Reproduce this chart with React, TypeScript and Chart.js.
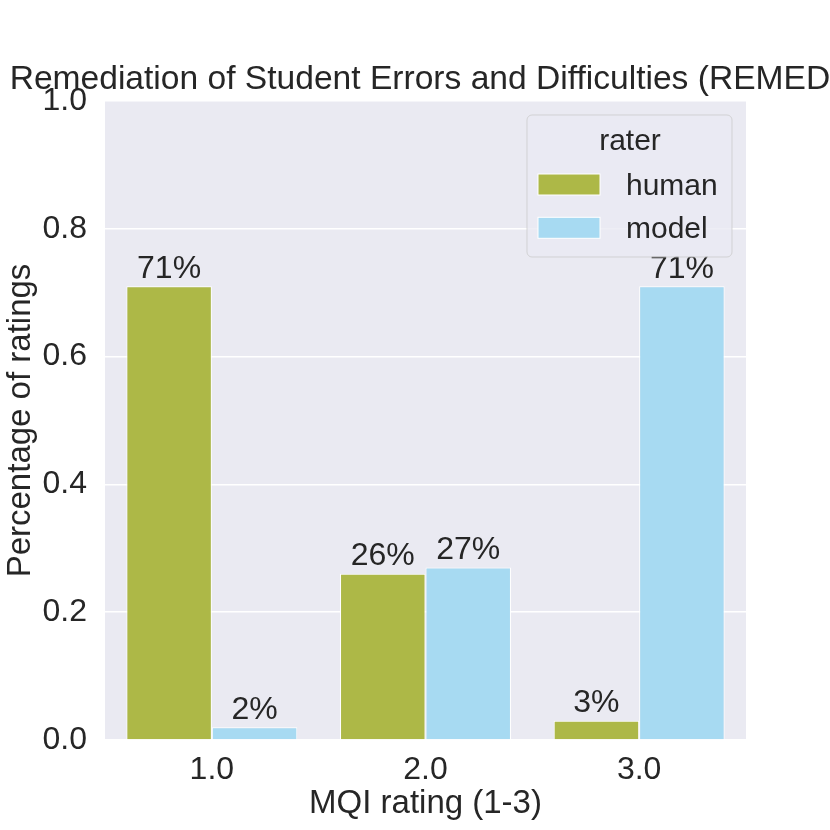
import React, { useEffect, useRef } from "react";
import { Chart, registerables } from "chart.js";

Chart.register(...registerables);

const categories = ["1.0", "2.0", "3.0"];
const humanShare = [0.71, 0.26, 0.03];
const modelShare = [0.02, 0.27, 0.71];
const raters = ["human", "model"];
const raterColors = ["#adb847", "#a7daf2"];

const FONT = "'Liberation Sans', Arial, sans-serif";
const TEXT = "#262626";
const PANEL = "#eaeaf2";

const panelBg = {
  id: "panelBg",
  beforeDraw(chart: any) {
    const { ctx, chartArea: a } = chart;
    ctx.save();
    ctx.fillStyle = PANEL;
    ctx.fillRect(a.left, a.top, a.right - a.left, a.bottom - a.top);
    ctx.restore();
  },
};

const topTitle = {
  id: "topTitle",
  afterDraw(chart: any) {
    const { ctx, chartArea: a } = chart;
    ctx.save();
    ctx.font = `33.6px ${FONT}`;
    ctx.fillStyle = TEXT;
    ctx.textAlign = "center";
    ctx.textBaseline = "alphabetic";
    ctx.fillText("Remediation of Student Errors and Difficulties (REMED)", (a.left + a.right) / 2, 89);
    ctx.restore();
  },
};

const barLabels = {
  id: "barLabels",
  afterDatasetsDraw(chart: any) {
    const { ctx } = chart;
    ctx.save();
    ctx.font = `32px ${FONT}`;
    ctx.fillStyle = TEXT;
    ctx.textAlign = "center";
    ctx.textBaseline = "alphabetic";
    chart.data.datasets.forEach((ds: any, i: number) => {
      chart.getDatasetMeta(i).data.forEach((bar: any, j: number) => {
        ctx.fillText(Math.round(ds.data[j] * 100) + "%", bar.x, bar.y - 8.5);
      });
    });
    ctx.restore();
  },
};

// legend sits inside the panel, top right, drawn over the labels
const boxLegend = {
  id: "boxLegend",
  afterDraw(chart: any) {
    const { ctx } = chart;
    const x0 = 527, y0 = 115, w = 205, h = 142;
    ctx.save();
    ctx.beginPath();
    ctx.roundRect(x0, y0, w, h, 5);
    ctx.fillStyle = "rgba(234,234,242,0.8)";
    ctx.fill();
    ctx.strokeStyle = "rgba(204,204,204,0.8)";
    ctx.lineWidth = 1;
    ctx.stroke();
    ctx.font = `30px ${FONT}`;
    ctx.fillStyle = TEXT;
    ctx.textAlign = "center";
    ctx.fillText("rater", 630, 150);
    ctx.textAlign = "left";
    chart.data.datasets.forEach((ds: any, i: number) => {
      const top = 174 + i * 43.3;
      ctx.fillStyle = ds.backgroundColor;
      ctx.fillRect(538, top, 62, 21);
      ctx.strokeStyle = "#ffffff";
      ctx.strokeRect(538, top, 62, 21);
      ctx.fillStyle = TEXT;
      ctx.fillText(ds.label, 626, top + 21);
    });
    ctx.restore();
  },
};

export default function App() {
  const canvasRef = useRef<HTMLCanvasElement | null>(null);
  const chartRef = useRef<Chart | null>(null);

  useEffect(() => {
    if (!canvasRef.current) return;
    Chart.defaults.font.family = FONT;
    chartRef.current = new Chart(canvasRef.current, {
      type: "bar",
      data: {
        labels: categories,
        datasets: [humanShare, modelShare].map((values, i) => ({
          label: raters[i],
          data: values,
          backgroundColor: raterColors[i],
          borderColor: "#ffffff",
          borderWidth: 1,
          categoryPercentage: 0.8,
          barPercentage: 1.0,
        })),
      },
      options: {
        responsive: true,
        maintainAspectRatio: false,
        animation: false,
        layout: { padding: { top: 101, right: 84, bottom: 0, left: 0 } },
        plugins: { legend: { display: false }, title: { display: false }, tooltip: { enabled: false } },
        scales: {
          x: {
            offset: true,
            grid: { display: false },
            border: { display: false },
            ticks: { color: TEXT, font: { size: 32 }, padding: 3 },
            title: {
              display: true,
              text: "MQI rating (1-3)",
              color: TEXT,
              font: { size: 33 },
              padding: { top: 0, bottom: 6 },
            },
            afterFit: (s: any) => {
              s.height = 90;
            },
          },
          y: {
            min: 0,
            max: 1,
            grid: { color: "#ffffff", lineWidth: 1.5, drawTicks: false },
            border: { display: false },
            ticks: {
              stepSize: 0.2,
              color: TEXT,
              font: { size: 32 },
              padding: 18,
              callback: (v: any) => Number(v).toFixed(1),
            },
            title: {
              display: true,
              text: "Percentage of ratings",
              color: TEXT,
              font: { size: 33 },
              padding: { top: 1, bottom: 0 },
            },
            afterFit: (s: any) => {
              s.width = 105;
            },
          },
        },
      },
      plugins: [panelBg, barLabels, topTitle, boxLegend],
    });
    return () => {
      chartRef.current?.destroy();
    };
  }, []);

  return (
    <div style={{ position: "absolute", left: 0, top: 0, width: 830, height: 830, background: "#ffffff" }}>
      <canvas ref={canvasRef} />
    </div>
  );
}
